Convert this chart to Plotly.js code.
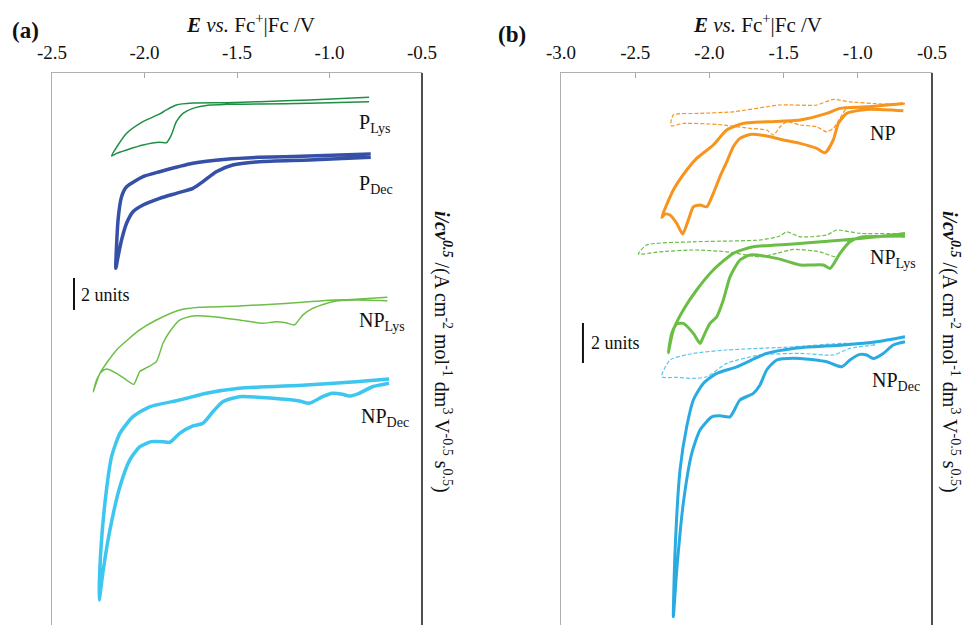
<!DOCTYPE html>
<html>
<head>
<meta charset="utf-8">
<script src="https://cdn.plot.ly/plotly-3.0.1.min.js"></script>
<style>html,body{margin:0;padding:0;background:#fff}#chart{width:964px;height:625px}</style>
</head>
<body>
<div id="chart"></div>
<script>
// ---------- Panel (a) ----------
var pLysE = [-0.786,-1.109,-1.379,-1.558,-1.648,-1.738,-1.792,-1.828,-1.855,-1.882,-1.918,-2.008,-2.097,-2.151,-2.178,-2.097,-2.008,-1.918,-1.882,-1.828,-1.740,-1.558,-1.379,-1.109,-0.786];
var pLysI = [-1.79,-1.89,-1.94,-1.96,-2.0,-2.21,-2.52,-3.04,-3.88,-4.36,-4.33,-4.5,-4.81,-5.02,-5.19,-3.77,-3.04,-2.56,-2.31,-2.0,-1.88,-1.86,-1.79,-1.69,-1.52];

var pDecE = [-0.777,-1.109,-1.379,-1.523,-1.612,-1.684,-1.738,-1.828,-1.918,-2.008,-2.062,-2.097,-2.124,-2.143,-2.155,-2.143,-2.124,-2.097,-2.008,-1.918,-1.738,-1.558,-1.379,-1.109,-0.777];
var pDecI = [-5.27,-5.44,-5.54,-5.75,-6.17,-6.79,-7.21,-7.52,-7.83,-8.25,-8.67,-9.39,-10.44,-11.48,-12.21,-9.19,-7.73,-7.11,-6.48,-6.17,-5.64,-5.39,-5.27,-5.19,-5.06];

var npLysAE = [-0.687,-0.857,-0.984,-1.091,-1.145,-1.190,-1.235,-1.289,-1.361,-1.487,-1.630,-1.738,-1.810,-1.864,-1.900,-1.936,-1.989,-2.026,-2.058,-2.097,-2.151,-2.205,-2.232,-2.259,-2.277,-2.241,-2.151,-2.026,-1.936,-1.810,-1.702,-1.487,-1.217,-1.037,-0.857,-0.687];
var npLysAI = [-14.23,-14.19,-14.29,-14.71,-15.13,-15.75,-15.61,-15.54,-15.64,-15.44,-15.23,-15.19,-15.44,-16.17,-16.89,-18.04,-18.42,-18.67,-19.46,-19.19,-18.77,-18.5,-18.67,-19.19,-19.92,-18.77,-17.31,-16.06,-15.44,-14.81,-14.64,-14.56,-14.39,-14.23,-14.14,-14.02];

var npDecAE = [-0.678,-0.768,-0.840,-0.894,-0.930,-0.984,-1.037,-1.109,-1.163,-1.307,-1.487,-1.577,-1.630,-1.684,-1.738,-1.810,-1.864,-1.900,-1.963,-2.026,-2.080,-2.133,-2.187,-2.223,-2.245,-2.237,-2.214,-2.178,-2.133,-2.062,-1.972,-1.810,-1.666,-1.487,-1.127,-0.857,-0.678];
var npDecAI = [-19.39,-19.61,-20.02,-20.19,-20.08,-20.02,-20.23,-20.64,-20.5,-20.33,-20.23,-20.54,-21.17,-21.89,-22.06,-22.52,-23.08,-23.04,-23.04,-23.36,-24.19,-25.86,-28.56,-31.06,-32.94,-30.02,-26.89,-23.98,-22.52,-21.48,-20.86,-20.44,-20.02,-19.71,-19.5,-19.29,-19.13];

// ---------- Panel (b) ----------
var npSolidE = [-0.693,-0.940,-1.075,-1.131,-1.165,-1.221,-1.277,-1.389,-1.502,-1.614,-1.726,-1.794,-1.839,-1.883,-1.929,-1.974,-2.018,-2.063,-2.108,-2.142,-2.180,-2.220,-2.266,-2.299,-2.321,-2.243,-2.153,-2.086,-1.974,-1.883,-1.772,-1.614,-1.389,-1.210,-1.120,-0.940,-0.693];
var npSolidI = [-1.89,-1.82,-2.02,-2.52,-3.35,-3.99,-3.77,-3.52,-3.35,-3.15,-3.07,-3.27,-3.69,-4.44,-5.19,-6.02,-6.69,-6.6,-6.69,-7.35,-8.05,-7.52,-7.1,-7.05,-7.22,-5.85,-4.85,-4.27,-3.6,-2.85,-2.52,-2.44,-2.35,-2.02,-1.77,-1.69,-1.52];
var npDashE = [-0.682,-0.940,-1.075,-1.120,-1.165,-1.210,-1.277,-1.389,-1.479,-1.524,-1.569,-1.614,-1.726,-1.951,-2.176,-2.254,-2.261,-2.243,-2.063,-1.839,-1.524,-1.277,-1.165,-1.053,-0.828,-0.682];
var npDashI = [-1.55,-1.69,-1.77,-2.27,-2.77,-2.94,-2.69,-2.6,-2.44,-2.69,-3.1,-2.85,-2.77,-2.57,-2.52,-2.65,-2.6,-2.1,-2.02,-1.94,-1.6,-1.6,-1.32,-1.44,-1.55,-1.52];

var npLysSolidE = [-0.682,-0.985,-1.053,-1.120,-1.187,-1.232,-1.322,-1.389,-1.546,-1.726,-1.794,-1.861,-1.906,-1.951,-1.996,-2.041,-2.063,-2.108,-2.176,-2.220,-2.254,-2.277,-2.243,-2.176,-2.086,-1.974,-1.839,-1.704,-1.435,-1.098,-0.873,-0.682];
var npLysSolidI = [-8.15,-8.22,-8.44,-9.02,-9.77,-9.6,-9.6,-9.6,-9.27,-9.1,-9.35,-10.19,-11.35,-12.19,-12.52,-13.19,-13.52,-13.02,-12.52,-12.55,-13.02,-13.99,-12.85,-11.85,-10.85,-9.85,-9.02,-8.69,-8.55,-8.35,-8.19,-8.02];
var npLysDashE = [-0.682,-0.985,-1.075,-1.142,-1.255,-1.435,-1.546,-1.659,-1.883,-2.108,-2.333,-2.479,-2.423,-2.108,-1.659,-1.524,-1.479,-1.389,-1.210,-1.142,-0.985,-0.682];
var npLysDashI = [-8.19,-8.19,-8.6,-9.19,-8.94,-8.82,-9.02,-9.19,-8.94,-8.85,-8.94,-9.05,-8.6,-8.44,-8.35,-8.15,-7.94,-8.19,-8.1,-7.85,-8.02,-8.02];

var npDecSolidE = [-0.682,-0.761,-0.828,-0.896,-0.940,-0.985,-1.053,-1.108,-1.210,-1.389,-1.546,-1.614,-1.659,-1.704,-1.794,-1.861,-1.929,-1.984,-2.063,-2.119,-2.176,-2.220,-2.243,-2.232,-2.198,-2.153,-2.108,-2.041,-1.951,-1.816,-1.614,-1.435,-1.098,-0.873,-0.682];
var npDecSolidI = [-13.44,-13.6,-14.02,-14.27,-14.1,-14.07,-14.35,-14.69,-14.44,-14.27,-14.35,-14.85,-15.6,-16.02,-16.35,-17.19,-17.14,-17.19,-17.85,-19.02,-21.52,-24.85,-27.19,-24.02,-19.85,-17.69,-16.35,-15.52,-15.02,-14.69,-14.02,-13.77,-13.6,-13.44,-13.19];
var npDecDashE = [-0.884,-1.053,-1.165,-1.389,-1.659,-1.883,-2.018,-2.108,-2.220,-2.321,-2.266,-2.108,-1.883,-1.435,-1.098,-0.884];
var npDecDashI = [-13.6,-13.77,-14.1,-14.02,-14.1,-14.52,-15.19,-15.27,-15.22,-15.19,-14.35,-14.02,-13.85,-13.69,-13.52,-13.55];

var tickValsA = [-2.5,-2.0,-1.5,-1.0,-0.5];
var tickTextA = ['-2.5','-2.0','-1.5','-1.0','-0.5'];
var tickValsB = [-3.0,-2.5,-2.0,-1.5,-1.0,-0.5];
var tickTextB = ['-3.0','-2.5','-2.0','-1.5','-1.0','-0.5'];

var FONT = '"Liberation Serif", "Times New Roman", serif';

function tr(x, y, color, width, dash, xa, ya) {
  return {x: x, y: y, type: 'scatter', mode: 'lines', xaxis: xa, yaxis: ya,
    line: {color: color, width: width, dash: dash || 'solid', shape: 'spline', smoothing: 0.6},
    hoverinfo: 'skip', showlegend: false};
}

var data = [
  tr(pLysE, pLysI, '#1f8e45', 1.5, null, 'x', 'y'),
  tr(pDecE, pDecI, '#3550a6', 3.5, null, 'x', 'y'),
  tr(npLysAE, npLysAI, '#6cbf46', 1.5, null, 'x', 'y'),
  tr(npDecAE, npDecAI, '#3dc6f0', 3.5, null, 'x', 'y'),
  tr(npDashE, npDashI, '#f7941d', 1.2, '4px,2px', 'x2', 'y2'),
  tr(npSolidE, npSolidI, '#f7941d', 3, null, 'x2', 'y2'),
  tr(npLysDashE, npLysDashI, '#6abd45', 1.2, '4px,2px', 'x2', 'y2'),
  tr(npLysSolidE, npLysSolidI, '#6abd45', 3, null, 'x2', 'y2'),
  tr(npDecDashE, npDecDashI, '#5cc6ea', 1.2, '4px,2px', 'x2', 'y2'),
  tr(npDecSolidE, npDecSolidI, '#29abe2', 3, null, 'x2', 'y2')
];

var W = 964, H = 625;
var ax0 = 52/W, ax1 = 422/W, bx0 = 561/W, bx1 = 932/W;
var ytop = 1 - 73/H;

function xaxisDef(range, tv, tt, domain) {
  return {domain: domain, range: range, side: 'top', tickvals: tv, ticktext: tt,
    ticks: 'inside', ticklen: 5, tickcolor: '#a8a8a8', tickwidth: 1,
    showline: true, linecolor: '#b0b0b0', linewidth: 1, showgrid: false, zeroline: false,
    tickfont: {family: FONT, size: 19, color: '#111'}, ticklabelstandoff: 5, fixedrange: true};
}
function yaxisDef(range, anchor) {
  return {domain: [0, ytop], range: range, anchor: anchor, showticklabels: false, ticks: '',
    showline: true, linecolor: '#b0b0b0', linewidth: 1, showgrid: false, zeroline: false, fixedrange: true};
}

var ytitle = '<b><i>i/cv</i></b><sup><b><i>0.5</i></b></sup> /(A cm<sup>-2</sup> mol<sup>-1</sup> dm<sup>3</sup> V<sup>-0.5</sup> s<sup>0.5</sup>)';
var xtitle = '<b><i>E</i></b> <i>vs.</i> Fc<sup>+</sup>|Fc /V';

function pa(text, px, py, opts) {
  var a = {text: text, xref: 'paper', yref: 'paper', x: px/W, y: 1 - py/H, showarrow: false,
    font: {family: FONT, size: 20, color: '#111'}, xanchor: 'center', yanchor: 'middle'};
  for (var k in (opts||{})) a[k] = opts[k];
  return a;
}
function da(text, xa, ya, x, y, size) {
  return {text: text, xref: xa, yref: ya, x: x, y: y, showarrow: false, xanchor: 'left', yanchor: 'middle',
    font: {family: FONT, size: size || 20, color: '#111'}};
}

var layout = {
  width: W, height: H, margin: {l: 0, r: 0, t: 0, b: 0},
  paper_bgcolor: '#fff', plot_bgcolor: '#fff', showlegend: false,
  xaxis: xaxisDef([-2.5, -0.5], tickValsA, tickTextA, [ax0, ax1]),
  yaxis: yaxisDef([-34.5, 0], 'x'),
  xaxis2: xaxisDef([-3.0, -0.5], tickValsB, tickTextB, [bx0, bx1]),
  yaxis2: yaxisDef([-27.6, 0], 'x2'),
  annotations: [
    pa('<b>(a)</b>', 10, 31, {xanchor: 'left', font: {family: FONT, size: 23, color: '#111'}}),
    pa('<b>(b)</b>', 496, 34, {xanchor: 'left', font: {family: FONT, size: 23, color: '#111'}}),
    pa(xtitle, 250, 24, {font: {family: FONT, size: 21, color: '#111'}}),
    pa(xtitle, 757, 24, {font: {family: FONT, size: 21, color: '#111'}}),
    pa(ytitle, 443, 352, {textangle: 90}),
    pa(ytitle, 951, 352, {textangle: 90}),
    da('P<sub>Lys</sub>', 'x', 'y', -0.85, -3.13),
    da('P<sub>Dec</sub>', 'x', 'y', -0.85, -6.94),
    da('NP<sub>Lys</sub>', 'x', 'y', -0.85, -15.5),
    da('NP<sub>Dec</sub>', 'x', 'y', -0.84, -21.56),
    da('2 units', 'x', 'y', -2.355, -13.85, 18),
    da('NP', 'x2', 'y2', -0.931, -3.0),
    da('NP<sub>Lys</sub>', 'x2', 'y2', -0.931, -9.25),
    da('NP<sub>Dec</sub>', 'x2', 'y2', -0.918, -15.4),
    da('2 units', 'x2', 'y2', -2.81, -13.5, 18)
  ],
  shapes: [
    {type: 'line', xref: 'paper', yref: 'paper', x0: ax1, x1: ax1, y0: 0, y1: ytop, line: {color: '#222', width: 1.6}},
    {type: 'line', xref: 'paper', yref: 'paper', x0: bx1, x1: bx1, y0: 0, y1: ytop, line: {color: '#222', width: 1.6}},
    {type: 'line', xref: 'x', yref: 'y', x0: -2.381, x1: -2.381, y0: -12.81, y1: -14.81, line: {color: '#111', width: 2}},
    {type: 'line', xref: 'x2', yref: 'y2', x0: -2.852, x1: -2.852, y0: -12.5, y1: -14.5, line: {color: '#111', width: 2}}
  ]
};

Plotly.newPlot('chart', data, layout, {staticPlot: true, displayModeBar: false});
</script>
</body>
</html>
